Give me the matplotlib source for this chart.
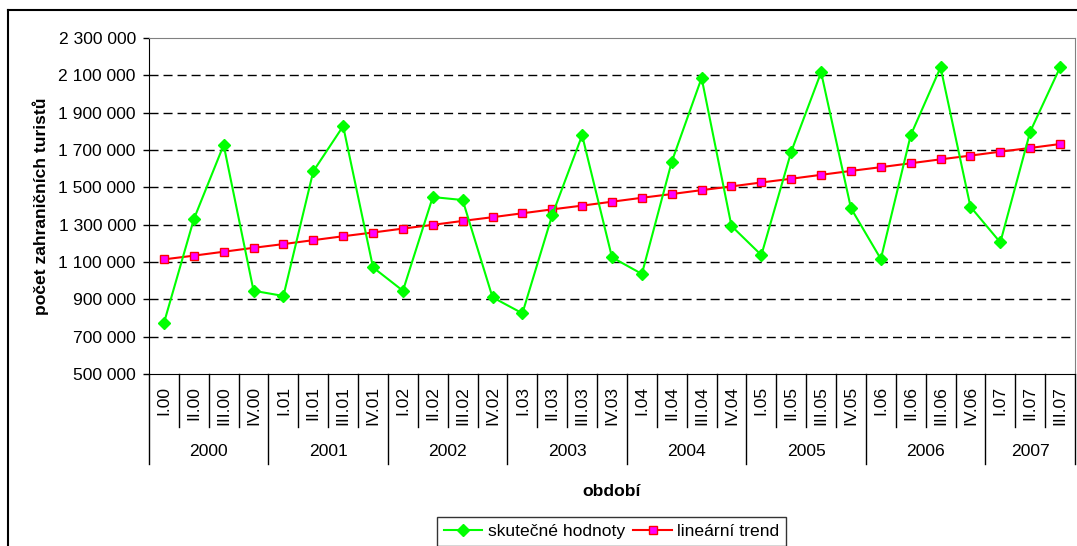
import numpy as np
import matplotlib.pyplot as plt
from matplotlib.lines import Line2D
from matplotlib import transforms

plt.rcParams['font.family'] = ['Liberation Sans', 'DejaVu Sans']
FS = 12.6

###data, one value per quarter
quarters = ["I.00", "II.00", "III.00", "IV.00",
            "I.01", "II.01", "III.01", "IV.01",
            "I.02", "II.02", "III.02", "IV.02",
            "I.03", "II.03", "III.03", "IV.03",
            "I.04", "II.04", "III.04", "IV.04",
            "I.05", "II.05", "III.05", "IV.05",
            "I.06", "II.06", "III.06", "IV.06",
            "I.07", "II.07", "III.07"]
years = ["2000", "2001", "2002", "2003", "2004", "2005", "2006", "2007"]
year_len = [4, 4, 4, 4, 4, 4, 4, 3]

actual = [773000, 1329000, 1727000, 946000,
          918000, 1586000, 1828000, 1071000,
          946000, 1448000, 1432000, 911000,
          825000, 1352000, 1779000, 1125000,
          1036000, 1637000, 2086000, 1293000,
          1137000, 1691000, 2116000, 1388000,
          1116000, 1779000, 2143000, 1396000,
          1205000, 1798000, 2143000]
trend = [1114000, 1134000, 1155000, 1176000, 1196000, 1217000, 1238000, 1258000,
         1279000, 1299000, 1320000, 1340000, 1361000, 1382000, 1402000, 1423000,
         1444000, 1464000, 1485000, 1505000, 1526000, 1546000, 1567000, 1588000,
         1608000, 1629000, 1650000, 1670000, 1691000, 1711000, 1732000]

W, H = 1077, 546
fig = plt.figure(figsize=(W / 100, H / 100), dpi=100)
ax = fig.add_axes([149 / W, 1 - 374 / H, (1075 - 149) / W, (374 - 38) / H])

x = np.arange(len(quarters))
ax.plot(x, actual, color="#00ff00", lw=1.5, marker="D", ms=6,
        mfc="#00ff00", mec="#00ff00", label="skutečné hodnoty", zorder=4)
ax.plot(x, trend, color="#ff0000", lw=1.5, marker="s", ms=6,
        mfc="#ff00ff", mec="#ff0000", mew=1, label="lineární trend", zorder=3)

###y axis
yt = np.arange(500000, 2300001, 200000)
ax.set_ylim(500000, 2300000)
ax.set_yticks(yt)
ax.set_yticklabels(["{:,}".format(v).replace(",", " ") for v in yt], fontsize=FS)
ax.tick_params(axis="y", length=4.5, width=1, pad=5, direction="out")
for v in yt[1:-1]:
    ax.axhline(v, color="black", lw=1, dashes=(6.5, 3.6), zorder=1)

ax.spines["left"].set_color("black")
ax.spines["bottom"].set_color("black")
ax.spines["top"].set_color("#808080")
ax.spines["right"].set_color("#808080")

###x axis drawn as excel style two level category axis
ax.set_xlim(-0.5, len(quarters) - 0.5)
ax.set_xticks([])
tr = transforms.blended_transform_factory(ax.transData, ax.transAxes)
ph = 374 - 38
for i, q in enumerate(quarters):
    ax.text(i, -12 / ph, q, rotation=90, ha="center", va="top",
            fontsize=FS, transform=tr)
start = 0
for yr, n in zip(years, year_len):
    ax.text(start + (n - 1) / 2, -78 / ph, yr, ha="center", va="center",
            fontsize=FS, transform=tr)
    start += n
bounds = np.cumsum([0] + year_len) - 0.5
for b in np.arange(len(quarters) + 1) - 0.5:
    depth = -90 / ph if b in bounds else -53 / ph
    ax.add_line(Line2D([b, b], [0, depth], color="black", lw=1,
                       transform=tr, clip_on=False))

ax.set_xlabel("období", fontsize=FS, fontweight="bold", labelpad=0)
ax.xaxis.set_label_coords(0.5, -(484 - 374) / ph)
fig.text(41 / W, 1 - 206 / H, "počet zahraničních turistů", rotation=90,
         ha="center", va="center", fontsize=FS, fontweight="bold")

###legend at the bottom
leg = fig.legend(loc="upper center", bbox_to_anchor=(611.5 / W, 1 - 517 / H),
                 ncol=2, fontsize=FS, frameon=True, fancybox=False,
                 edgecolor="black", handlelength=2.2, handletextpad=0.3,
                 columnspacing=0.5, borderpad=0.4, borderaxespad=0)
leg.get_frame().set_linewidth(1)

###outer chart frame, cut by the image edge
fig.add_artist(Line2D([8 / W, 8 / W], [0, 1 - 10 / H], color="black", lw=1.5))
fig.add_artist(Line2D([8 / W, 1], [1 - 10 / H, 1 - 10 / H], color="black", lw=1.5))

fig.savefig("out.png", dpi=100)
